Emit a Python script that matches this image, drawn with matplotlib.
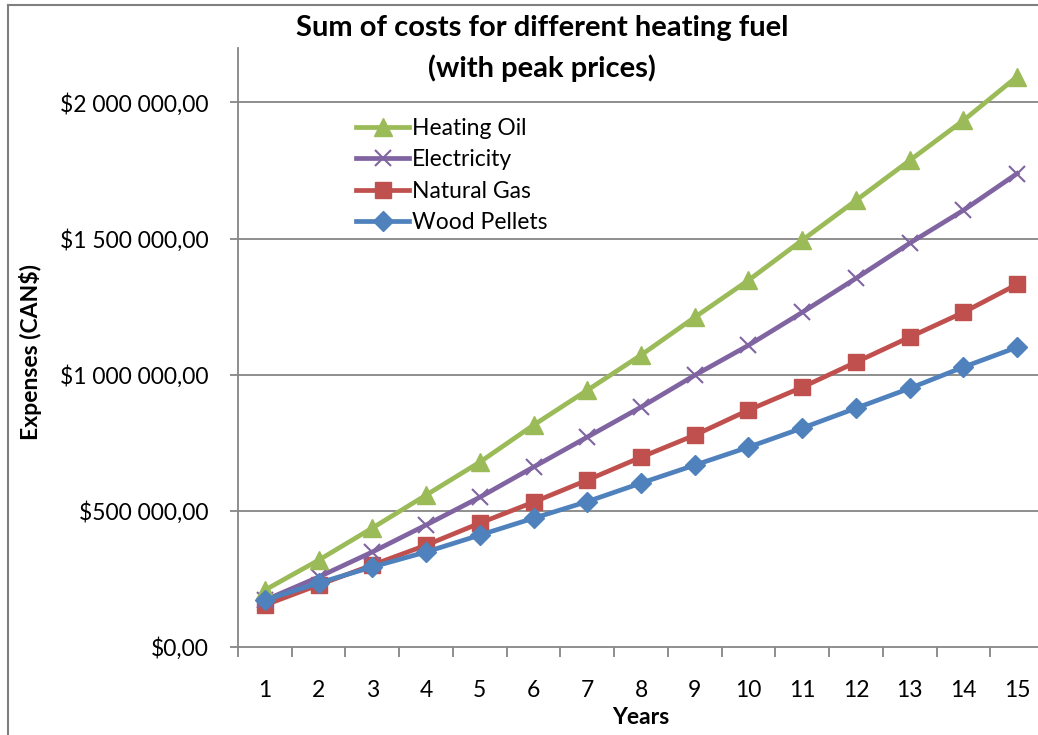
import matplotlib
matplotlib.use("Agg")
import matplotlib.pyplot as plt
from matplotlib.lines import Line2D

years = list(range(1, 16))
heating_oil = [209000, 319000, 437000, 558000, 679000, 815000, 943000, 1072000,
               1211000, 1347000, 1494000, 1640000, 1787000, 1934000, 2095000]
electricity = [172000, 257000, 349000, 448000, 550000, 661000, 771000, 881000,
               998000, 1108000, 1229000, 1354000, 1483000, 1604000, 1739000]
natural_gas = [154000, 228000, 301000, 374000, 455000, 532000, 613000, 697000,
               778000, 870000, 954000, 1046000, 1138000, 1229000, 1332000]
wood_pellets = [172000, 235000, 294000, 349000, 411000, 473000, 534000, 602000,
                668000, 734000, 804000, 877000, 950000, 1028000, 1101000]
ytick_vals = [0, 500000, 1000000, 1500000, 2000000]
ytick_labels = ["$0,00", "$500 000,00", "$1 000 000,00", "$1 500 000,00", "$2 000 000,00"]

plt.rcParams['font.family'] = ['Lato', 'DejaVu Sans']

fig = plt.figure(figsize=(10.38, 7.35), dpi=100)
W, H = 1038, 735
l, r, t, b = 238, 1044, 48, 647
ax = fig.add_axes([l / W, 1 - b / H, (r - l) / W, (b - t) / H])

grey = "#868686"
ax.set_ylim(0, 2200000)
ax.set_xlim(0.5, 15.5)
ax.set_yticks(ytick_vals)
ax.set_yticklabels(ytick_labels, fontsize=16.5)
for v in ytick_vals[1:]:
    ax.axhline(v, color=grey, lw=1.3, zorder=0)

ax.set_xticks([i + 0.5 for i in range(0, 16)])
ax.set_xticklabels([])
ax.set_xticks(years, minor=True)
ax.set_xticklabels([str(y) for y in years], minor=True, fontsize=16.5)
ax.tick_params(axis='x', which='major', length=7, color=grey, direction='out', width=1.3)
ax.tick_params(axis='x', which='minor', length=0, pad=24)
ax.tick_params(axis='y', length=6, color=grey, width=1.3, pad=15)

for s in ['top', 'right']:
    ax.spines[s].set_visible(False)
ax.spines['left'].set_color(grey)
ax.spines['bottom'].set_color(grey)
ax.spines['left'].set_linewidth(1.3)
ax.spines['bottom'].set_linewidth(1.3)

lw = 3.4
ax.plot(years, natural_gas, color="#C0504D", lw=lw, marker='s', ms=11, zorder=3)
ax.plot(years, electricity, color="#8064A2", lw=lw, marker='x', ms=12, mew=1.5, zorder=4)
ax.plot(years, heating_oil, color="#9BBB59", lw=lw, marker='^', ms=13, zorder=5)
ax.plot(years, wood_pellets, color="#4F81BD", lw=lw, marker='D', ms=10, zorder=6)

handles = [
    Line2D([], [], color="#9BBB59", lw=lw, marker='^', ms=13),
    Line2D([], [], color="#8064A2", lw=lw, marker='x', ms=12, mew=1.5),
    Line2D([], [], color="#C0504D", lw=lw, marker='s', ms=11),
    Line2D([], [], color="#4F81BD", lw=lw, marker='D', ms=10),
]
labels = ["Heating Oil", "Electricity", "Natural Gas", "Wood Pellets"]
leg = fig.legend(handles, labels, loc='upper left', bbox_to_anchor=(347 / W, 1 - 109 / H),
                 frameon=False, fontsize=16.5, handlelength=2.3, handletextpad=0.12,
                 labelspacing=0.45, borderaxespad=0)

fig.text(542 / W, 1 - 28 / H, "Sum of costs for different heating fuel", ha='center',
         va='center', fontsize=21, fontweight='bold')
fig.text(542 / W, 1 - 68 / H, "(with peak prices)", ha='center', va='center',
         fontsize=21, fontweight='bold')
fig.text(31 / W, 1 - 352 / H, "Expenses (CAN$)", rotation=90, ha='center', va='center',
         fontsize=16.5, fontweight='bold')
fig.text(641 / W, 1 - 717 / H, "Years", ha='center', va='center', fontsize=16.5,
         fontweight='bold')

# frame lines of the cropped figure
fig.add_artist(Line2D([8 / W, 8 / W], [0, 1 - 5 / H], color="#7f7f7f", lw=1.5))
fig.add_artist(Line2D([8 / W, 1], [1 - 5 / H, 1 - 5 / H], color="#7f7f7f", lw=1.5))

fig.savefig("out.png", dpi=100)
